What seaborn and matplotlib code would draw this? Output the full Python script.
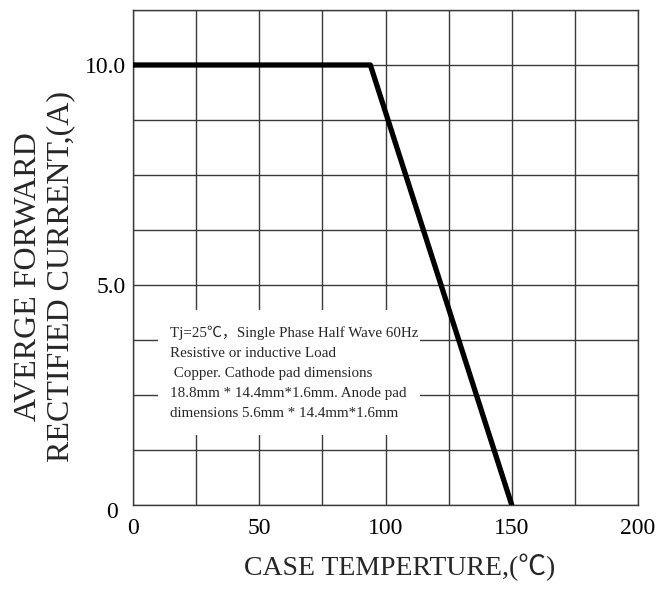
import numpy as np
import pandas as pd
import matplotlib
matplotlib.use("Agg")
import matplotlib.pyplot as plt
import matplotlib.transforms as mtransforms
import seaborn as sns
from matplotlib.patches import Rectangle

# ---- data ----
case_temp = [0, 94, 150]
avg_current = [10.0, 10.0, 0.0]
x_ticks = [0, 25, 50, 75, 100, 125, 150, 175, 200]
x_tick_labels = ["0", "", "50", "", "100", "", "150", "", "200"]
y_ticks = [0, 1.25, 2.5, 3.75, 5.0, 6.25, 7.5, 8.75, 10.0, 11.25]
y_tick_labels = ["0", "", "", "", "5.0", "", "", "", "10.0", ""]
x_label = "CASE TEMPERTURE,(℃)"
y_label = "AVERGE FORWARD\nRECTIFIED CURRENT,(A)"
note = ("Tj=25℃，Single Phase Half Wave 60Hz\n"
        "Resistive or inductive Load\n"
        " Copper. Cathode pad dimensions\n"
        "18.8mm * 14.4mm*1.6mm. Anode pad\n"
        "dimensions 5.6mm * 14.4mm*1.6mm")

sns.set_theme(style="white")
fam = ["Liberation Serif", "Noto Sans CJK SC", "DejaVu Sans"]
plt.rcParams["font.family"] = fam

df = pd.DataFrame({"temp": case_temp, "current": avg_current})

fig = plt.figure(figsize=(6.56, 5.92), dpi=100)
ax = fig.add_axes([133/656, 1 - 505/592, 505/656, 495/592])

ax.set_xlim(0, 200)
ax.set_ylim(0, 11.25)
ax.set_xticks(x_ticks)
ax.set_xticklabels(x_tick_labels)
ax.set_yticks(y_ticks)
ax.set_yticklabels(y_tick_labels)
ax.grid(True, color="#3a3a3a", linewidth=1.0)
ax.set_axisbelow(True)
for s in ax.spines.values():
    s.set_color("#3a3a3a")
    s.set_linewidth(1.0)
ax.tick_params(axis="both", length=0, labelsize=17, colors="black")
ax.tick_params(axis="x", pad=9)
ax.tick_params(axis="y", pad=5)
for lab in ax.get_xticklabels() + ax.get_yticklabels():
    lab.set_family(fam)
# the y "0" label sits a bit lower and further left in the reference
ylabs = ax.get_yticklabels()
ylabs[0].set_transform(ylabs[0].get_transform() +
                       mtransforms.ScaledTranslation(-8/100, -5/100, fig.dpi_scale_trans))

# white box behind note
ax.add_patch(Rectangle((25/505, 70/495), 262/505, 125/495, transform=ax.transAxes,
                       facecolor="white", edgecolor="none", zorder=1.5))

sns.lineplot(data=df, x="temp", y="current", color="black", linewidth=3.8,
             ax=ax, zorder=3)

ax.text(37/505, 179/495, note, transform=ax.transAxes, fontsize=10.8,
        va="top", ha="left", linespacing=1.68, family=fam, zorder=2)

ax.set_xlabel(x_label, fontsize=20, va="center", family=fam)
ax.set_ylabel(y_label, fontsize=23, va="center", ha="center", family=fam,
              linespacing=1.15)
ax.xaxis.set_label_coords((400-133)/505, (505-567)/495)
ax.yaxis.set_label_coords((45-133)/505, (505-277)/495)

fig.savefig("out.png", dpi=100)
